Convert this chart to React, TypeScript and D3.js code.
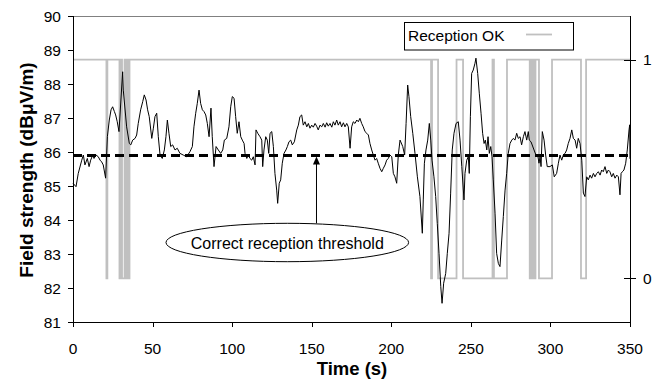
import React from 'react';
import * as d3 from 'd3';

// Field strength trace (time in s, level in dBμV/m)
const timeS = [
  0, 1.9, 3.3, 5.5, 6.5, 7.5, 9.0, 10.1, 11.1, 12.4, 13.2, 14.5, 15.9, 17.0, 18.0, 19.0, 20.5,
  21.6, 22.8, 23.9, 24.9, 26.0, 26.8, 27.8, 28.9, 31.2, 31.6, 33.7, 35.4, 36.3, 37.5, 39.0, 40.0,
  41.0, 42.5, 43.8, 44.8, 45.9, 46.9, 47.9, 49.5, 50.5, 51.5, 52.6, 53.6, 54.7, 56.1, 57.4, 58.4,
  59.3, 60.3, 61.4, 62.6, 64.1, 65.5, 67.2, 69.3, 71.4, 73.5, 75.0, 76.0, 77.1, 78.1, 79.2, 80.2,
  81.3, 82.3, 83.4, 84.4, 85.5, 86.7, 87.5, 88.6, 89.9, 91.3, 92.8, 94.1, 95.1, 96.6, 98.0, 99.1,
  100.1, 101.2, 102.2, 103.2, 104.3, 105.4, 106.4, 107.5, 108.1, 109.2, 110.2, 111.2, 112.3, 113.3,
  114.4, 115.0, 116.1, 117.5, 118.6, 119.2, 120.0, 121.1, 122.1, 123.0, 123.8, 124.9, 125.9, 126.9,
  128.0, 128.6, 129.6, 130.5, 131.5, 132.6, 133.8, 134.7, 135.7, 136.8, 137.8, 139.1, 140.6, 141.6,
  142.6, 143.7, 144.7, 145.8, 146.9, 147.9, 148.9, 150.0, 151.0, 152.1, 153.1, 154.1, 155.2, 156.3,
  157.3, 158.4, 159.4, 160.4, 161.5, 162.6, 163.6, 164.6, 165.7, 166.7, 167.8, 168.8, 169.9, 170.9,
  172.0, 173.0, 174.1, 175.1, 176.1, 177.2, 178.3, 179.3, 180.3, 181.4, 182.4, 183.5, 184.6, 185.6,
  186.6, 187.7, 188.7, 189.8, 190.8, 191.8, 192.9, 194.0, 195.0, 196.1, 197.1, 198.1, 199.2, 200.3,
  201.3, 202.3, 203.4, 204.4, 205.5, 207.2, 208.4, 209.3, 210.3, 211.1, 212.2, 213.5, 214.9, 216.4,
  218.0, 219.5, 220.1, 220.8, 221.8, 222.9, 223.9, 224.8, 225.6, 226.8, 227.9, 228.9, 230.0, 231.1,
  231.9, 232.9, 234.2, 235.2, 236.3, 237.3, 238.3, 239.4, 240.7, 242.1, 243.2, 244.3, 245.7, 246.3,
  247.4, 248.4, 249.0, 249.7, 250.5, 251.5, 252.6, 253.2, 254.3, 255.3, 256.4, 257.4, 258.3, 259.1,
  260.0, 260.8, 261.6, 262.5, 263.3, 264.1, 265.2, 266.2, 267.3, 268.3, 269.4, 270.4, 271.5, 272.5,
  273.5, 274.6, 275.7, 276.7, 277.7, 278.8, 279.8, 280.9, 281.9, 283.0, 284.0, 285.1, 286.1, 286.7,
  287.8, 289.7, 290.9, 292.0, 292.8, 293.5, 294.1, 294.9, 296.0, 297.0, 298.0, 299.7, 301.2, 302.4,
  303.9, 305.0, 306.0, 307.1, 308.1, 309.2, 310.2, 311.2, 312.3, 313.4, 314.4, 315.5, 316.5, 317.5,
  318.6, 319.7, 320.7, 321.7, 322.8, 323.8, 324.9, 325.9, 327.0, 328.0, 329.1, 330.1, 331.2, 332.2,
  333.2, 334.3, 335.4, 336.4, 337.4, 338.5, 339.5, 340.6, 341.7, 342.7, 343.7, 344.4, 345.2, 346.2,
  347.3, 348.3, 349.4, 349.8, 350.0,
];
const fieldDbuv = [
  85.08, 84.98, 85.37, 85.76, 85.91, 85.62, 85.81, 85.57, 85.76, 85.91, 85.81, 85.91, 85.86, 85.76, 85.71, 85.62, 85.23,
  86.45, 86.94, 87.24, 87.33, 87.19, 87.09, 86.89, 86.6, 88.36, 87.82, 86.74, 86.25, 86.21, 86.35, 86.4, 86.5,
  86.84, 87.24, 87.48, 87.68, 87.53, 87.24, 87.04, 86.4, 86.7, 87.04, 87.14, 86.45, 85.91, 85.81, 86.06, 86.45,
  86.94, 86.55, 86.16, 86.21, 86.06, 86.11, 85.96, 85.91, 85.86, 86.01, 86.16, 86.74, 87.14, 87.43, 87.82, 87.43,
  87.24, 87.19, 87.09, 86.84, 86.45, 87.29, 86.45, 85.57, 86.16, 86.06, 85.96, 86.06, 86.35, 86.4, 86.74, 87.33,
  87.63, 87.58, 87.04, 86.55, 86.89, 86.45, 86.35, 86.25, 85.96, 85.81, 85.91, 85.81, 85.76, 85.86,
  85.62, 86.65, 86.55, 86.45, 86.35, 85.57, 86.06, 86.45, 86.35, 85.96, 86.55, 86.6, 86.16, 85.37,
  84.88, 84.49, 85.08, 85.18, 85.67, 85.96, 86.06, 86.16, 86.3, 86.35, 86.21, 86.3, 86.65, 86.79,
  87.04, 87.09, 86.79, 86.89, 86.74, 86.84, 86.7, 86.79, 86.73, 86.84, 86.76, 86.65, 86.79, 86.74,
  86.84, 86.73, 86.86, 86.76, 86.84, 86.73, 86.89, 86.79, 86.94, 86.79, 86.89, 86.74, 86.86, 86.74,
  86.84, 86.74, 86.11, 86.74, 86.89, 86.84, 86.94, 86.89, 86.99, 86.84, 86.74, 86.6, 86.55, 86.5,
  86.25, 86.06, 85.91, 85.76, 85.81, 85.67, 85.52, 85.42, 85.52, 85.62, 85.76, 85.81, 85.91, 85.86,
  85.37, 85.27, 85.08, 85.91, 86.35, 86.16, 85.91, 86.84, 87.97, 87.63, 87.04, 86.55, 85.96, 85.27,
  84.69, 83.61, 84.59, 85.67, 86.06, 86.35, 86.84, 86.35, 85.76, 85.27, 84.69, 83.9, 83.02, 82.04,
  81.55, 82.14, 82.43, 83.02, 83.61, 84.79, 86.06, 86.55, 86.84, 86.89, 86.35, 85.57, 84.59, 85.37,
  85.76, 85.86, 85.37, 87.04, 88.31, 88.41, 88.61, 88.76, 88.31, 87.73, 87.14, 86.55, 86.25, 86.35,
  86.06, 86.45, 85.96, 86.16, 85.86, 85.18, 84.2, 83.02, 82.72, 82.63, 83.41, 84.1, 84.88, 85.37,
  85.96, 86.25, 86.35, 86.4, 86.35, 86.55, 86.4, 86.45, 86.21, 86.45, 86.6, 86.35, 86.6, 86.35,
  86.3, 86.06, 85.91, 85.91, 85.67, 85.86, 85.57, 86.6, 86.35, 85.91, 85.57, 85.57, 85.62, 85.27,
  85.37, 85.67, 85.91, 85.76, 85.91, 85.96, 86.06, 86.25, 86.4, 86.65, 86.4, 86.35, 86.11, 86.4,
  86.25, 85.76, 84.79, 84.69, 85.27, 85.18, 85.32, 85.23, 85.37, 85.27, 85.37, 85.42, 85.32, 85.47,
  85.42, 85.57, 85.37, 85.47, 85.42, 85.27, 85.37, 85.23, 85.32, 85.27, 84.74, 85.37, 85.42, 85.47,
  85.67, 86.06, 86.65, 86.8, 85.8,
];

// Reception OK state (step changes: time in s, state 0/1)
const receptionT = [
  0, 21.0, 21.6, 29.2, 30.2, 30.8, 32.4, 33.0, 33.9, 34.6, 35.5,
  225.0, 225.6, 229.4, 241.0, 245.1, 263.6, 264.5, 272.7,
  287.0, 287.4, 287.8, 288.2, 288.6, 289.0, 289.4, 289.8, 290.2, 290.6,
  292.8, 301.0, 319.2, 322.4, 350,
];
const receptionOk = [
  1, 0, 1, 0, 1, 0, 1, 0, 1, 0, 1,
  0, 1, 0, 1, 0, 1, 0, 1,
  0, 1, 0, 1, 0, 1, 0, 1, 0, 1,
  0, 1, 0, 1, 1,
];

const xTicks = [0, 50, 100, 150, 200, 250, 300, 350];
const yTicks = [81, 82, 83, 84, 85, 86, 87, 88, 89, 90];
const y2Ticks = [0, 1];
const threshold = 85.9;
const arrowTime = 153;
const legendLabel = 'Reception OK';
const annotationText = 'Correct reception threshold';
const xTitle = 'Time (s)';
const yTitle = 'Field strength (dBμV/m)';

const FONT = '"Liberation Sans", Arial, Helvetica, sans-serif';

export default function App() {
  const W = 662;
  const H = 381;
  const L = 73, R = 630, T = 16, B = 322;
  const x = d3.scaleLinear().domain([0, 350]).range([L, R]);
  const y = d3.scaleLinear().domain([81, 90]).range([B, T]);
  const y2 = d3.scaleLinear().domain([-0.2, 1.2]).range([B, T]);

  const fieldPts: [number, number][] = timeS.map((t, i) => [t, fieldDbuv[i]]);
  const recPts: [number, number][] = receptionT.map((t, i) => [t, receptionOk[i]]);

  const fieldLine = d3.line<[number, number]>().x(d => x(d[0])).y(d => y(d[1]));
  const recLine = d3
    .line<[number, number]>()
    .x(d => x(d[0]))
    .y(d => y2(d[1]))
    .curve(d3.curveStepAfter);

  const ay = y(threshold);
  const ax = x(arrowTime);
  const ell = { cx: 287.3, cy: 242.5, rx: 121.3, ry: 19.2 };

  return (
    <svg
      width={W}
      height={H}
      style={{ position: 'absolute', left: 0, top: 0, background: '#fff' }}
      fontFamily={FONT}
    >
      <rect x={0} y={0} width={W} height={H} fill="#fff" />
      {/* plot border top */}
      <line x1={L} x2={R} y1={T + 0.5} y2={T + 0.5} stroke="#808080" strokeWidth={1} />

      {/* reception trace */}
      <path d={recLine(recPts) || ''} fill="none" stroke="#c0c0c0" strokeWidth={1.8} />

      {/* field strength */}
      <path d={fieldLine(fieldPts) || ''} fill="none" stroke="#000" strokeWidth={1} strokeLinejoin="round" />

      {/* threshold */}
      <line
        x1={L}
        x2={R}
        y1={ay}
        y2={ay}
        stroke="#000"
        strokeWidth={3}
        strokeDasharray="9,5"
      />

      {/* axes */}
      <line x1={L + 0.5} x2={L + 0.5} y1={T} y2={B} stroke="#000" strokeWidth={1} />
      <line x1={L} x2={R} y1={B + 0.5} y2={B + 0.5} stroke="#000" strokeWidth={1} />
      <line x1={R + 0.5} x2={R + 0.5} y1={T} y2={B + 1} stroke="#000" strokeWidth={1} />

      {yTicks.map(v => (
        <g key={'y' + v}>
          <line x1={L - 5} x2={L} y1={Math.round(y(v)) + 0.5} y2={Math.round(y(v)) + 0.5} stroke="#000" />
          <text x={61} y={y(v)} textAnchor="end" dominantBaseline="central" fontSize={15.5}>
            {v}
          </text>
        </g>
      ))}
      {xTicks.map(v => (
        <g key={'x' + v}>
          <line x1={Math.round(x(v)) + 0.5} x2={Math.round(x(v)) + 0.5} y1={B} y2={B + 5} stroke="#000" />
          <text x={x(v)} y={354} textAnchor="middle" fontSize={15.5}>
            {v}
          </text>
        </g>
      ))}
      {y2Ticks.map(v => (
        <g key={'r' + v}>
          <line x1={R - 6} x2={R + 6} y1={Math.round(y2(v)) + 0.5} y2={Math.round(y2(v)) + 0.5} stroke="#000" />
          <text x={643} y={y2(v)} dominantBaseline="central" fontSize={15.5}>
            {v}
          </text>
        </g>
      ))}

      {/* axis titles */}
      <text
        transform={`translate(26,${(T + B) / 2 + 1}) rotate(-90)`}
        textAnchor="middle"
        dominantBaseline="central"
        fontSize={19}
        fontWeight="bold"
      >
        {yTitle}
      </text>
      <text x={352} y={375} textAnchor="middle" fontSize={18.5} fontWeight="bold">
        {xTitle}
      </text>

      {/* legend */}
      <rect x={404.5} y={22.5} width={169} height={27.5} fill="#fff" stroke="#000" strokeWidth={1} />
      <text x={408} y={40.5} fontSize={15.5}>
        {legendLabel}
      </text>
      <line x1={526} x2={552} y1={34.5} y2={34.5} stroke="#c0c0c0" strokeWidth={1.8} />

      {/* annotation */}
      <line x1={ax} x2={ax} y1={ell.cy - ell.ry} y2={ay + 6} stroke="#000" strokeWidth={1} />
      <path d={`M${ax},${ay + 1} L${ax - 3.5},${ay + 9} L${ax + 3.5},${ay + 9} Z`} fill="#000" />
      <ellipse cx={ell.cx} cy={ell.cy} rx={ell.rx} ry={ell.ry} fill="#fff" stroke="#000" strokeWidth={1} />
      <text x={ell.cx} y={ell.cy + 1} textAnchor="middle" dominantBaseline="central" fontSize={16}>
        {annotationText}
      </text>
    </svg>
  );
}
